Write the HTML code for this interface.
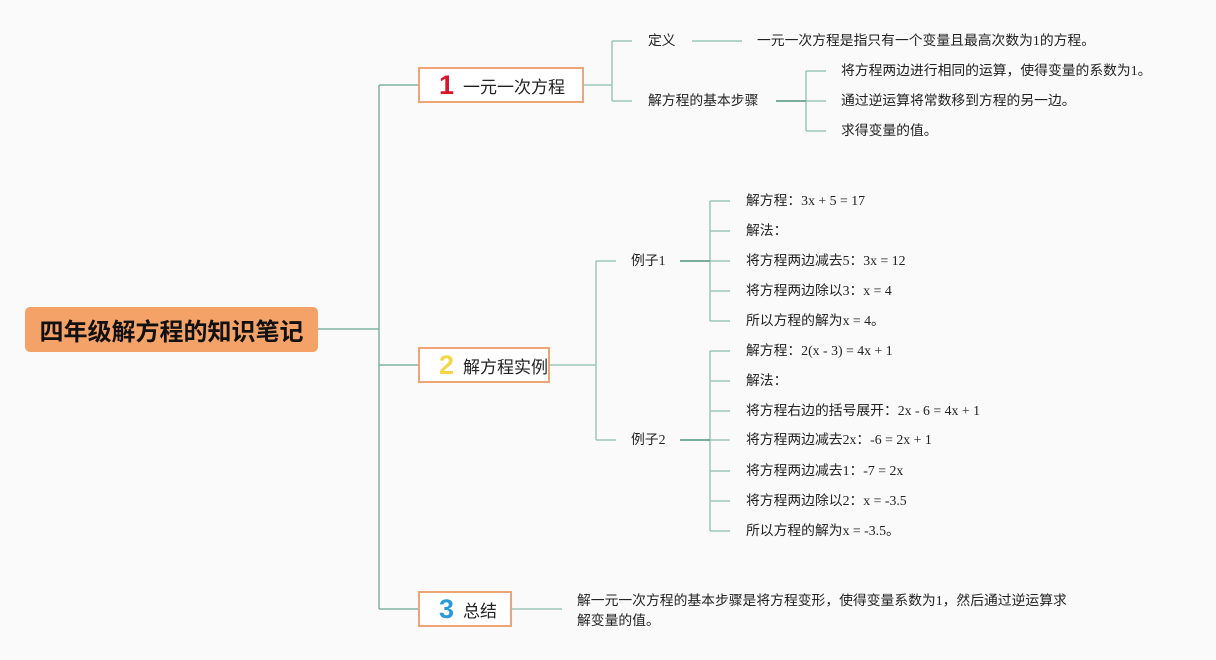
<!DOCTYPE html>
<html><head><meta charset="utf-8"><style>
body{margin:0;width:1216px;height:660px;background:#fafafa;position:relative;overflow:hidden;font-family:"Liberation Serif","Noto Sans CJK SC",serif;}
.t{position:absolute;font-size:13.8px;color:#222;line-height:16px;white-space:nowrap;transform:translateY(-50%);}
.box{position:absolute;background:#fff;border:2px solid #eea474;box-sizing:border-box;display:flex;align-items:center;white-space:nowrap;font-family:"Liberation Sans","Noto Sans CJK SC",sans-serif;font-size:17px;color:#222;}
.num{font-family:"Liberation Sans",sans-serif;font-weight:bold;font-size:27px;margin:0 9px 0 19px;}
.root{position:absolute;left:25px;top:307px;width:293px;height:45px;background:#f4a267;border-radius:5px;display:flex;align-items:center;justify-content:center;font-family:"Liberation Sans","Noto Sans CJK SC",sans-serif;font-weight:bold;font-size:24px;color:#111;}
</style></head><body>
<svg width="1216" height="660" style="position:absolute;left:0;top:0" fill="none" stroke="#9cc7b6" stroke-width="1.5">
<path d="M318 329H379M379 85V609M379 85H418M379 365H418M379 609H418" stroke="#7fb3a0"/>
<path d="M584 85H612M612 41V101M612 41H632M612 101H632M692 41H742M776 101H806M806 71V131M806 71H826M806 101H826M806 131H826"/>
<path d="M550 365H596M596 261V440M596 261H616M596 440H616"/>
<path d="M680 261H710M710 201V321M710 201H730M710 231H730M710 261H730M710 291H730M710 321H730"/>
<path d="M680 440H710M710 351V531M710 351H730M710 381H730M710 411H730M710 440H730M710 471H730M710 501H730M710 531H730"/>
<path d="M512 609H562"/>
<path d="M776 101H806M680 261H710M680 440H710" stroke="#5f9a85"/>
</svg>
<div class="root">四年级解方程的知识笔记</div>
<div class="box" style="left:418px;top:67px;width:166px;height:36px"><span class="num" style="color:#d8172b">1</span>一元一次方程</div>
<div class="box" style="left:418px;top:347px;width:132px;height:36px"><span class="num" style="color:#f3d649">2</span>解方程实例</div>
<div class="box" style="left:418px;top:591px;width:94px;height:36px"><span class="num" style="color:#2a9ad8">3</span>总结</div>
<div class="t" style="left:648px;top:41px">定义</div>
<div class="t" style="left:757px;top:41px">一元一次方程是指只有一个变量且最高次数为1的方程。</div>
<div class="t" style="left:648px;top:101px">解方程的基本步骤</div>
<div class="t" style="left:841px;top:71px">将方程两边进行相同的运算，使得变量的系数为1。</div>
<div class="t" style="left:841px;top:101px">通过逆运算将常数移到方程的另一边。</div>
<div class="t" style="left:841px;top:131px">求得变量的值。</div>
<div class="t" style="left:631px;top:261px">例子1</div>
<div class="t" style="left:746px;top:201px">解方程：3x + 5 = 17</div>
<div class="t" style="left:746px;top:231px">解法：</div>
<div class="t" style="left:746px;top:261px">将方程两边减去5：3x = 12</div>
<div class="t" style="left:746px;top:291px">将方程两边除以3：x = 4</div>
<div class="t" style="left:746px;top:321px">所以方程的解为x = 4。</div>
<div class="t" style="left:631px;top:440px">例子2</div>
<div class="t" style="left:746px;top:351px">解方程：2(x - 3) = 4x + 1</div>
<div class="t" style="left:746px;top:381px">解法：</div>
<div class="t" style="left:746px;top:411px">将方程右边的括号展开：2x - 6 = 4x + 1</div>
<div class="t" style="left:746px;top:440px">将方程两边减去2x：-6 = 2x + 1</div>
<div class="t" style="left:746px;top:471px">将方程两边减去1：-7 = 2x</div>
<div class="t" style="left:746px;top:501px">将方程两边除以2：x = -3.5</div>
<div class="t" style="left:746px;top:531px">所以方程的解为x = -3.5。</div>
<div class="t" style="left:577px;top:601px">解一元一次方程的基本步骤是将方程变形，使得变量系数为1，然后通过逆运算求</div>
<div class="t" style="left:577px;top:621px">解变量的值。</div>
</body></html>
